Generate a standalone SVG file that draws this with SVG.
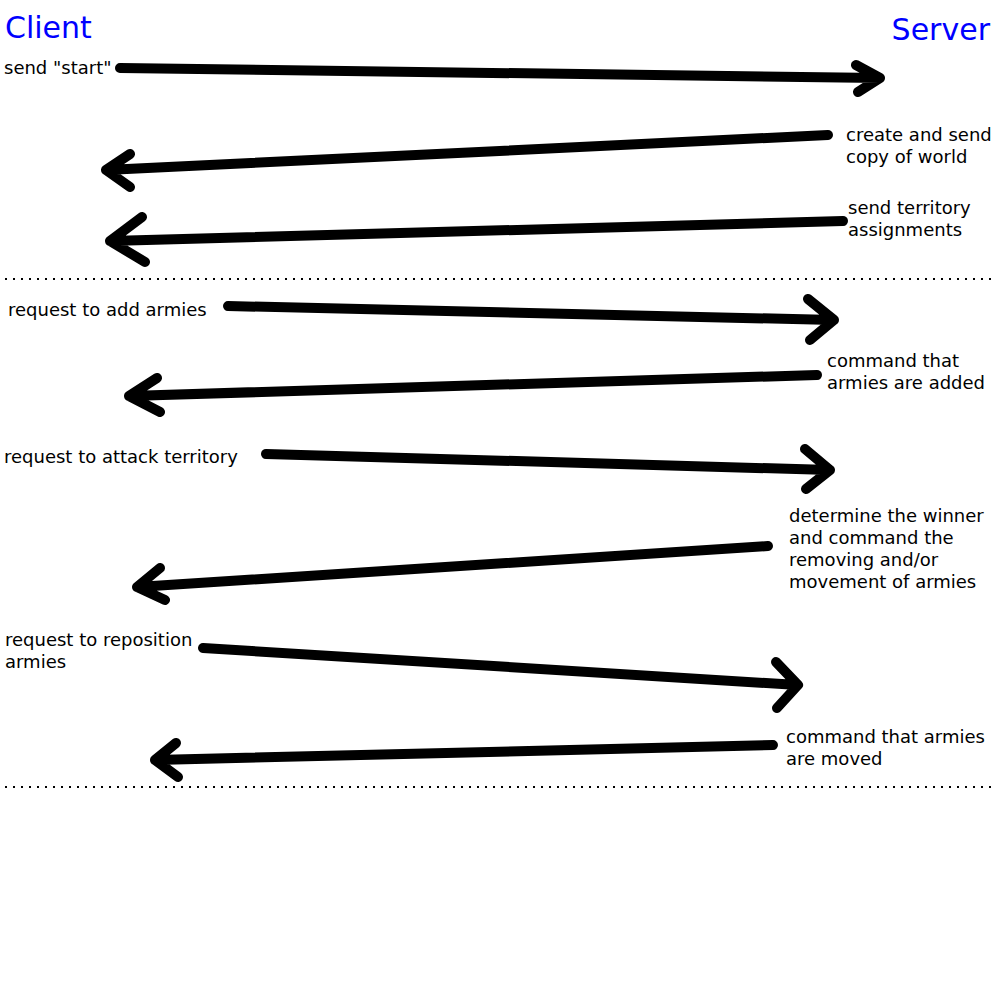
<svg xmlns="http://www.w3.org/2000/svg" width="1000" height="1000" viewBox="0 0 1000 1000">
<style>
.t{font-family:"DejaVu Sans",sans-serif;font-size:18px;fill:#000}
.h{font-family:"DejaVu Sans",sans-serif;font-size:30px;fill:#0000ff}
.a{fill:none;stroke:#000;stroke-width:10;stroke-linecap:round;stroke-linejoin:round}
.d{fill:none;stroke:#000;stroke-width:2;stroke-dasharray:2 6}
</style>
<rect width="1000" height="1000" fill="#fff"/>
<g id="client"><text class="h" x="5" y="38">Client</text></g>
<g id="server"><text class="h" x="990" y="40" text-anchor="end">Server</text></g>
<g id="separators">
<line class="d" x1="5" y1="279" x2="992" y2="279"/>
<line class="d" x1="5" y1="787" x2="992" y2="787"/>
</g>
<g id="labels">
<text class="t" x="4" y="74">send "start"</text>
<text class="t" x="846" y="141">create and send</text>
<text class="t" x="846" y="163">copy of world</text>
<text class="t" x="848" y="214">send territory</text>
<text class="t" x="848" y="236">assignments</text>
<text class="t" x="8" y="316">request to add armies</text>
<text class="t" x="827" y="367">command that</text>
<text class="t" x="827" y="389">armies are added</text>
<text class="t" x="4" y="463">request to attack territory</text>
<text class="t" x="789" y="522">determine the winner</text>
<text class="t" x="789" y="544">and command the</text>
<text class="t" x="789" y="566">removing and/or</text>
<text class="t" x="789" y="588">movement of armies</text>
<text class="t" x="5" y="646">request to reposition</text>
<text class="t" x="5" y="668">armies</text>
<text class="t" x="786" y="743">command that armies</text>
<text class="t" x="786" y="765">are moved</text>
</g>
<g id="connectors">
<path class="a" d="M120 68 L880 78 M856 65 L880 78 L858 92"/>
<path class="a" d="M828 135 L106 170 M130 154 L106 170 L130 187"/>
<path class="a" d="M843 221 L110 241 M142 217 L110 241 L145 262"/>
<path class="a" d="M228 306 L834 320 M808 299 L834 320 L810 340"/>
<path class="a" d="M817 375 L129 396 M157 378 L129 396 L160 412"/>
<path class="a" d="M266 454 L830 470 M805 449 L830 470 L806 489"/>
<path class="a" d="M768 546 L137 587 M160 568 L137 587 L165 600"/>
<path class="a" d="M203 648 L798 685 M776 662 L798 685 L777 708"/>
<path class="a" d="M773 745 L155 760 M176 743 L155 760 L178 777"/>
</g>
</svg>
